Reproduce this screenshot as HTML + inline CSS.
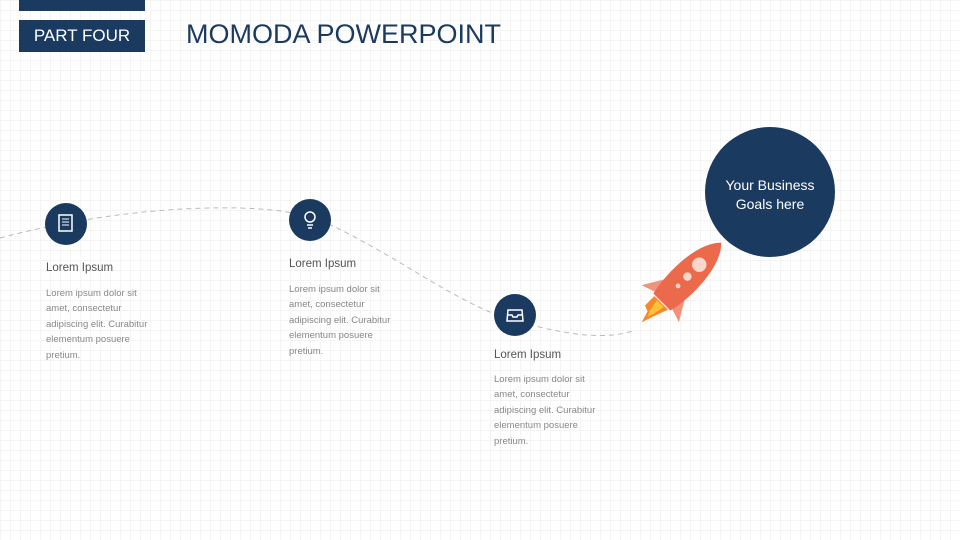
<!DOCTYPE html>
<html><head><meta charset="utf-8"><style>
html,body{margin:0;padding:0}
body{width:960px;height:540px;position:relative;overflow:hidden;font-family:"Liberation Sans",sans-serif;
background-color:#fff;
background-image:linear-gradient(#f4f4f4 1px,transparent 1px),linear-gradient(90deg,#f4f4f4 1px,transparent 1px);
background-size:10px 10px;}
.abs{position:absolute}
.t{font-size:11.5px;color:#555;}
.d{font-size:9.5px;color:#888;line-height:15.4px;white-space:nowrap}
</style></head><body>
<div class="abs" style="left:19px;top:0;width:126px;height:11px;background:#1a3a5f"></div>
<div class="abs" style="left:19px;top:20px;width:126px;height:32px;background:#1a3a5f;color:#fff;font-size:17px;line-height:32px;text-align:center">PART FOUR</div>
<div class="abs" style="left:186px;top:19px;color:#1a3a5f;font-size:27px">MOMODA POWERPOINT</div>
<svg class="abs" style="left:0;top:0" width="960" height="540">
<path d="M0,238 C60,222 150,206 240,208 C300,210 320,218 360,240 C420,272 470,310 520,322 C570,336 610,340 635,330" fill="none" stroke="#bbb" stroke-width="1" stroke-dasharray="5,4"/>
<circle cx="66" cy="224" r="21" fill="#1a3a5f"/>
<rect x="59" y="215" width="13" height="16" fill="none" stroke="#fff" stroke-width="1.5"/>
<line x1="62" y1="219" x2="69" y2="219" stroke="#fff"/><line x1="62" y1="222" x2="69" y2="222" stroke="#fff"/><line x1="62" y1="225" x2="69" y2="225" stroke="#fff"/>
<circle cx="310" cy="220" r="21" fill="#1a3a5f"/>
<circle cx="310" cy="217" r="5" fill="none" stroke="#fff" stroke-width="1.5"/>
<line x1="307" y1="225" x2="313" y2="225" stroke="#fff" stroke-width="1.5"/><line x1="308" y1="228" x2="312" y2="228" stroke="#fff" stroke-width="1.5"/>
<circle cx="515" cy="315" r="21" fill="#1a3a5f"/>
<path d="M508,310 L522,310 L523,321 L507,321 Z M507,315 L512,315 L513,317 L517,317 L518,315 L523,315" fill="none" stroke="#fff" stroke-width="1.5"/>
<circle cx="770" cy="192" r="65" fill="#1a3a5f"/>
<g transform="translate(684,280) rotate(45) scale(1.2)">
<path d="M-10,8 L-22,28 L-10,24 Z" fill="#f0937a"/>
<path d="M10,8 L22,28 L10,24 Z" fill="#f0937a"/>
<path d="M0,-44 C16,-28 14,10 10,26 L-10,26 C-14,10 -16,-28 0,-44 Z" fill="#ec6a4c"/>
<circle cx="0" cy="-18" r="6" fill="#fbd6cc"/>
<circle cx="0" cy="-4" r="3.5" fill="#fbd6cc"/>
<circle cx="0" cy="7" r="2" fill="#fbd6cc"/>
<path d="M-8,27 L8,27 L4,38 L0,50 L-3,40 L-8,38 Z" fill="#f58a2a"/>
<path d="M-4,28 L4,28 L2,38 L0,43 L-2,38 Z" fill="#fbc13a"/>
</g>
</svg>
<div class="abs" style="left:705px;top:176px;width:130px;text-align:center;color:#fff;font-size:14px;line-height:19px">Your Business<br>Goals here</div>
<div class="abs t" style="left:46px;top:262px">Lorem Ipsum</div>
<div class="abs d" style="left:46px;top:286px">Lorem ipsum dolor sit<br>amet, consectetur<br>adipiscing elit. Curabitur<br>elementum posuere<br>pretium.</div>
<div class="abs t" style="left:289px;top:258px">Lorem Ipsum</div>
<div class="abs d" style="left:289px;top:282px">Lorem ipsum dolor sit<br>amet, consectetur<br>adipiscing elit. Curabitur<br>elementum posuere<br>pretium.</div>
<div class="abs t" style="left:494px;top:349px">Lorem Ipsum</div>
<div class="abs d" style="left:494px;top:372px">Lorem ipsum dolor sit<br>amet, consectetur<br>adipiscing elit. Curabitur<br>elementum posuere<br>pretium.</div>
</body></html>
